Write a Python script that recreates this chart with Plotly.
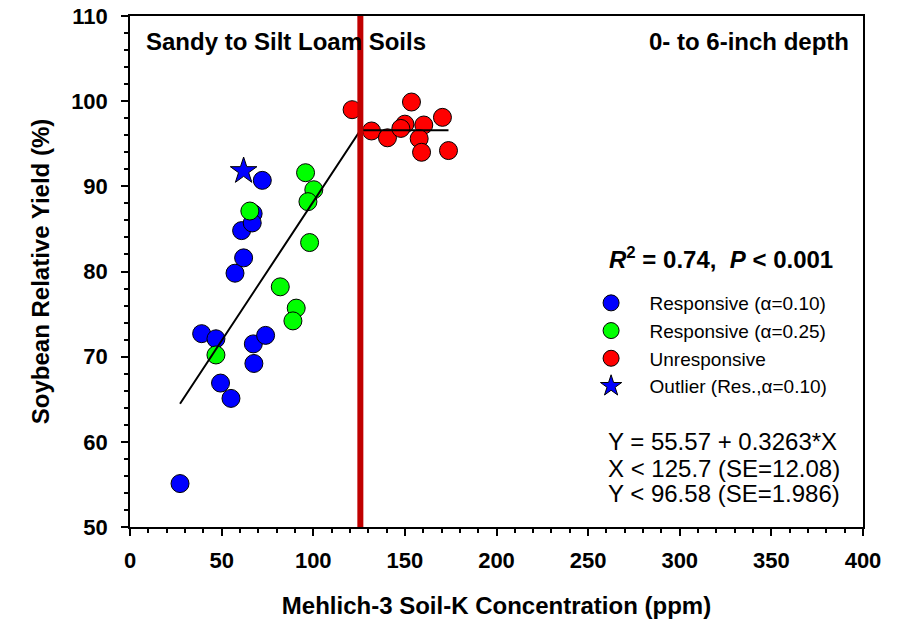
import plotly.graph_objects as go

# ---- data ----
blue_x = [27.3, 39.1, 46.9, 49.4, 55.1, 67.3, 67.6, 74.0, 57.3, 62.0, 60.9, 67.2, 66.7, 72.2]
blue_y = [55.1, 72.7, 72.1, 66.9, 65.1, 71.5, 69.2, 72.5, 79.8, 81.6, 84.8, 86.8, 85.7, 90.7]

green_x = [46.9, 65.4, 82.0, 90.7, 88.9, 95.8, 100.3, 97.1, 98.0]
green_y = [70.2, 87.1, 78.2, 75.7, 74.2, 91.6, 89.6, 88.2, 83.4]

red_x = [121.2, 131.8, 140.5, 153.6, 150.0, 147.8, 160.3, 157.8, 159.1, 170.5, 173.8]
red_y = [99.0, 96.5, 95.7, 99.9, 97.3, 96.8, 97.2, 95.6, 94.0, 98.1, 94.2]

star_x = [62.0]
star_y = [91.8]

intercept = 55.57
slope = 0.3263
join_x = 125.7
plateau_y = 96.58

series_names = ["Responsive (α=0.10)", "Responsive (α=0.25)", "Unresponsive", "Outlier (Res.,α=0.10)"]

x_ticks = [0, 50, 100, 150, 200, 250, 300, 350, 400]
y_ticks = [50, 60, 70, 80, 90, 100, 110]

FONT = "Liberation Sans, Arial, sans-serif"

all_x = blue_x + green_x + red_x + star_x
fit_x = [min(all_x), join_x, max(red_x)]
fit_y = [intercept + slope * fit_x[0], plateau_y, plateau_y]

fig = go.Figure()
mk_line = dict(color="black", width=1)
fig.add_trace(go.Scatter(x=blue_x, y=blue_y, mode="markers", name=series_names[0],
                         marker=dict(color="#0000FF", size=18, line=mk_line)))
fig.add_trace(go.Scatter(x=green_x, y=green_y, mode="markers", name=series_names[1],
                         marker=dict(color="#00FF00", size=18, line=mk_line)))
fig.add_trace(go.Scatter(x=red_x, y=red_y, mode="markers", name=series_names[2],
                         marker=dict(color="#FF0000", size=18, line=mk_line)))
fig.add_trace(go.Scatter(x=star_x, y=star_y, mode="markers", name=series_names[3],
                         marker=dict(color="#0000FF", size=20, symbol="star", line=mk_line)))
fig.add_trace(go.Scatter(x=fit_x, y=fit_y, mode="lines", showlegend=False,
                         line=dict(color="black", width=2), hoverinfo="skip"))

fig.add_shape(type="line", xref="x", yref="paper", x0=join_x, x1=join_x, y0=0, y1=1,
              line=dict(color="#C00000", width=6), layer="above")

ann_font = dict(family=FONT, size=24, color="black")
fig.add_annotation(xref="paper", yref="paper", x=0.019, y=0.951, xanchor="left", yanchor="middle",
                   text="<b>Sandy to Silt Loam Soils</b>", showarrow=False, font=ann_font)
fig.add_annotation(xref="paper", yref="paper", x=0.984, y=0.951, xanchor="right", yanchor="middle",
                   text="<b>0- to 6-inch depth</b>", showarrow=False, font=ann_font)
fig.add_annotation(xref="paper", yref="paper", x=0.651, y=0.526, xanchor="left", yanchor="middle",
                   text="<b><i>R</i><sup>2</sup> = 0.74,  <i>P</i> &lt; 0.001</b>", showarrow=False,
                   font=ann_font)
eq_lines = ["Y = 55.57 + 0.3263*X", "X &lt; 125.7 (SE=12.08)", "Y &lt; 96.58 (SE=1.986)"]
eq_y = [0.1669, 0.1148, 0.0646]
for t, yy in zip(eq_lines, eq_y):
    fig.add_annotation(xref="paper", yref="paper", x=0.650, y=yy, xanchor="left", yanchor="middle",
                       text=t, showarrow=False, font=ann_font)

# y-axis title placed as rotated annotation for exact positioning
fig.add_annotation(xref="paper", yref="paper", x=-0.1218, y=0.5, xanchor="center", yanchor="middle",
                   textangle=-90, text="<b>Soybean Relative Yield (%)</b>", showarrow=False,
                   font=dict(family=FONT, size=24, color="black"))

axis_common = dict(
    showline=True, linecolor="black", linewidth=1.5, mirror=True,
    ticks="outside", ticklen=7, tickwidth=1.5, tickcolor="black",
    showgrid=False, zeroline=False, automargin=False,
    tickfont=dict(family=FONT, size=22, color="black"),
)

fig.update_xaxes(range=[0, 400], tickvals=x_ticks, ticktext=[f"<b>{v}</b>" for v in x_ticks],
                 minor=dict(dtick=10, ticks="outside", ticklen=4, tickwidth=1.5, tickcolor="black"),
                 title=dict(text="<b>Mehlich-3 Soil-K Concentration (ppm)</b>", standoff=25,
                            font=dict(family=FONT, size=24, color="black")),
                 ticklabelstandoff=6,
                 **axis_common)
fig.update_yaxes(range=[50, 110], tickvals=y_ticks, ticktext=[f"<b>{v}</b>" for v in y_ticks],
                 minor=dict(dtick=2, ticks="outside", ticklen=4, tickwidth=1.5, tickcolor="black"),
                 ticklabelstandoff=9,
                 **axis_common)

fig.update_layout(
    width=904, height=623,
    margin=dict(l=130, r=41, t=16, b=96),
    paper_bgcolor="white", plot_bgcolor="white",
    font=dict(family=FONT, color="black"),
    showlegend=True,
    legend=dict(x=0.6038, y=0.4755, xanchor="left", yanchor="top", bgcolor="rgba(0,0,0,0)",
                font=dict(family=FONT, size=19, color="black"), itemwidth=67,
                tracegroupgap=0),
)

fig.write_html("out.html", config={"displayModeBar": False},
               post_script="document.body.style.margin='0';")
